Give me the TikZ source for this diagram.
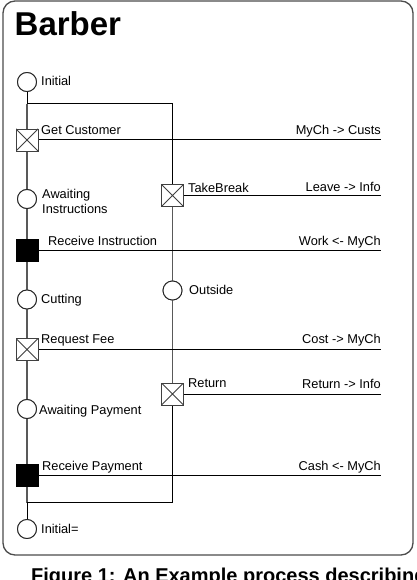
\documentclass[tikz,border=0pt]{standalone}
\usepackage{fontspec}
\setmainfont{Liberation Sans}
\begin{document}
\begin{tikzpicture}[x=1pt,y=-1pt,
  lbl/.style={anchor=base west, inner sep=0pt, font=\fontsize{12.8pt}{15pt}\selectfont},
  rlbl/.style={anchor=base east, inner sep=0pt, font=\fontsize{12.8pt}{15pt}\selectfont},
  state/.style={circle, draw=black!85, fill=white, line width=0.9pt, minimum size=19pt, inner sep=0pt},
  xbox/.style={rectangle, draw=black!75, fill=white, minimum size=22pt, inner sep=0pt, line width=0.9pt,
    path picture={\draw[black!75, line width=0.8pt]
      (path picture bounding box.north west) -- (path picture bounding box.south east)
      (path picture bounding box.north east) -- (path picture bounding box.south west);}},
  fbox/.style={rectangle, draw=black, fill=black, minimum size=22pt, inner sep=0pt},
  spine/.style={draw=black!65, line width=1.3pt},
  wire/.style={draw=black, line width=1pt}
]
\useasboundingbox (0,0) rectangle (416,580);
\clip (0,0) rectangle (416,580);
\fill[white] (0,0) rectangle (416,580);

% frame
\draw[black!70, line width=1.3pt, rounded corners=12pt] (3,1) rectangle (413,555);
\node[anchor=base west, inner sep=0pt, font=\fontsize{33pt}{36pt}\selectfont\bfseries] (title) at (14.5,35.5) {Barber};
\node[anchor=base west, inner sep=0pt, font=\fontsize{20pt}{24pt}\selectfont\bfseries] (caption) at (31,582) {Figure 1: An Example process describing};

% left column
\node[state] (ini) at (27,82) {};
\node[xbox] (gc) at (27,140) {};
\node[state] (ai) at (27,199) {};
\node[fbox] (ri) at (27,250) {};
\node[state] (cut) at (27,299.5) {};
\node[xbox] (rf) at (27,349.5) {};
\node[state] (ap) at (27,409) {};
\node[fbox] (rp) at (27,475.5) {};
\node[state] (ini2) at (27,529) {};

% right column
\node[xbox] (tb) at (172.5,195.5) {};
\node[state] (out) at (172.5,290.5) {};
\node[xbox] (ret) at (172.5,394) {};

\coordinate (j1) at (27,104);
\coordinate (j1r) at (172.5,104);
\coordinate (j2) at (27,502.5);
\coordinate (j2r) at (172.5,502.5);

\coordinate (e1) at (381,140);
\coordinate (e2) at (381,195.5);
\coordinate (e3) at (381,250);
\coordinate (e4) at (381,349.5);
\coordinate (e5) at (381,394);
\coordinate (e6) at (381,475.5);

% spine
\draw[wire] (ini) -- (j1);
\draw[spine] (j1) -- (gc);
\draw[spine] (gc) -- (ai);
\draw[spine] (ai) -- (ri);
\draw[spine] (ri) -- (cut);
\draw[spine] (cut) -- (rf);
\draw[spine] (rf) -- (ap);
\draw[spine] (ap) -- (rp);
\draw[spine] (rp) -- (j2);
\draw[wire] (j2) -- (ini2);

% branch
\draw[wire] (j1) -- (j1r) -- (tb);
\draw[spine] (tb) -- (out);
\draw[spine] (out) -- (ret);
\draw[wire] (ret) -- (j2r) -- (j2);

% horizontal channels
\draw[wire] (gc) -- (e1);
\draw[wire] (tb) -- (e2);
\draw[wire] (ri) -- (e3);
\draw[wire] (rf) -- (e4);
\draw[wire] (ret) -- (e5);
\draw[wire] (rp) -- (e6);

% redraw nodes on top
\node[state] at (ini) {};
\node[xbox] at (gc) {};
\node[state] at (ai) {};
\node[fbox] at (ri) {};
\node[state] at (cut) {};
\node[xbox] at (rf) {};
\node[state] at (ap) {};
\node[fbox] at (rp) {};
\node[state] at (ini2) {};
\node[xbox] at (tb) {};
\node[state] at (out) {};
\node[xbox] at (ret) {};

% labels
\node[lbl] (lini) at (41,86) {Initial};
\node[lbl] (lgc) at (41,135) {Get Customer};
\node[lbl] (lai) at (42,198) {Awaiting};
\node[lbl] (lai2) at (42,213) {Instructions};
\node[lbl] (lri) at (48,245.5) {Receive Instruction};
\node[lbl] (lcut) at (41,303.5) {Cutting};
\node[lbl] (lrf) at (41,343.5) {Request Fee};
\node[lbl] (lap) at (39,414) {Awaiting Payment};
\node[lbl] (lrp) at (42,470.5) {Receive Payment};
\node[lbl] (lini2) at (41,533) {Initial=};
\node[lbl] (ltb) at (188,192) {TakeBreak};
\node[lbl] (lout) at (189,294.5) {Outside};
\node[lbl] (lret) at (188,387) {Return};

\node[rlbl] (r1) at (381,135) {MyCh -> Custs};
\node[rlbl] (r2) at (381,191.5) {Leave -> Info};
\node[rlbl] (r3) at (381,245) {Work <- MyCh};
\node[rlbl] (r4) at (381,343) {Cost -> MyCh};
\node[rlbl] (r5) at (381,388) {Return -> Info};
\node[rlbl] (r6) at (381,470.5) {Cash <- MyCh};
\end{tikzpicture}
\end{document}
